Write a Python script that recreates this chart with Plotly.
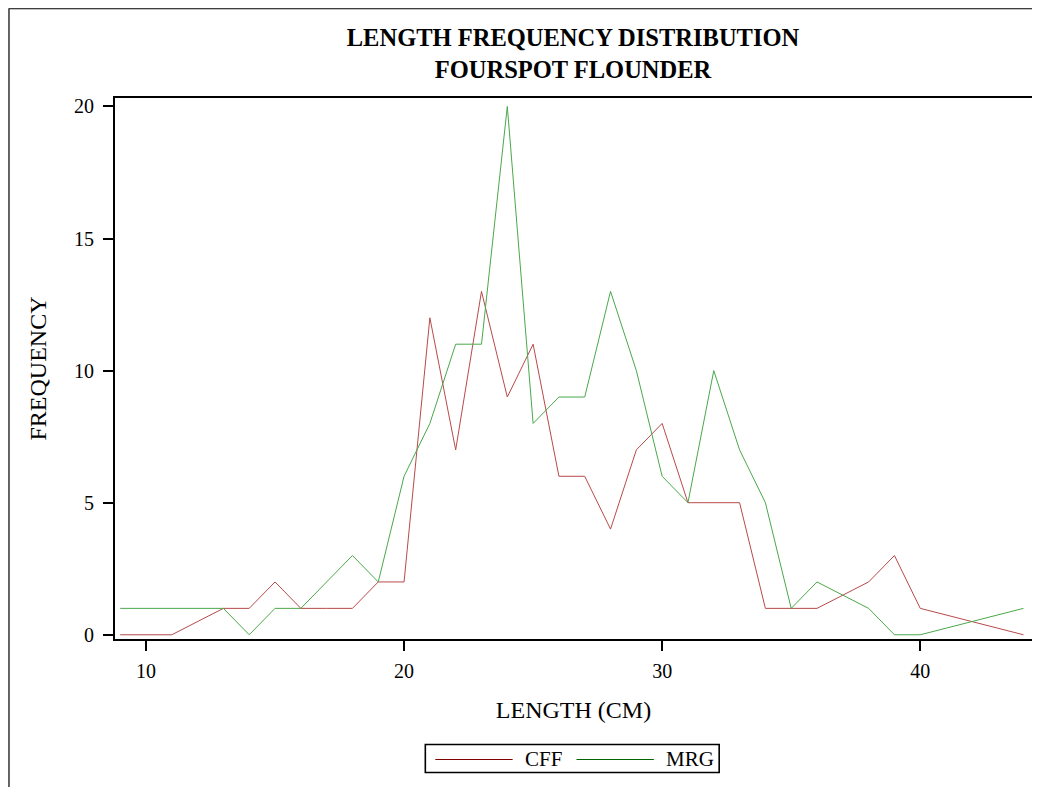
import plotly.graph_objects as go

# CFF series (length in cm, frequency)
cff_len = [9, 10, 11, 13, 14, 15, 16, 17, 18, 19, 20, 21, 22, 23, 24, 25, 26, 27, 28,
           29, 30, 31, 32, 33, 34, 35, 36, 38, 39, 40, 44]
cff_freq = [0, 0, 0, 1, 1, 2, 1, 1, 1, 2, 2, 12, 7, 13, 9, 11, 6, 6, 4,
            7, 8, 5, 5, 5, 1, 1, 1, 2, 3, 1, 0]

# MRG series
mrg_len = [9, 10, 11, 12, 13, 14, 15, 16, 18, 19, 20, 21, 22, 23, 24, 25, 26, 27, 28,
           29, 30, 31, 32, 33, 34, 35, 36, 38, 39, 40, 44]
mrg_freq = [1, 1, 1, 1, 1, 0, 1, 1, 3, 2, 6, 8, 11, 11, 20, 8, 9, 9, 13,
            10, 6, 5, 10, 7, 5, 1, 2, 1, 0, 0, 1]

series_names = ["CFF", "MRG"]
line_colors = ["#b84a4a", "#4aa84a"]     # thin plotted lines
legend_colors = ["#800000", "#006400"]   # legend swatches

x_ticks = [10, 20, 30, 40]
y_ticks = [0, 5, 10, 15, 20]

FONT = "Liberation Serif, Times New Roman, serif"

W, H = 1032, 779
L, R, T, B = 107, 6, 90, 148
pw, ph = W - L - R, H - T - B


def px_x(p):
    return (p - L) / pw


def px_y(p):
    return (H - B - p) / ph


fig = go.Figure()
for xs, ys, name, col in zip([cff_len, mrg_len], [cff_freq, mrg_freq],
                             series_names, line_colors):
    fig.add_trace(go.Scatter(x=xs, y=ys, mode="lines", name=name,
                             line=dict(color=col, width=1), showlegend=False))

# manual legend (box, swatch lines, labels) in figure pixel positions
shapes = [
    dict(type="rect", xref="paper", yref="paper",
         x0=px_x(0.75), x1=px_x(W + 20), y0=px_y(H + 20), y1=px_y(0.75),
         line=dict(color="black", width=1.2), layer="below"),
    dict(type="rect", xref="paper", yref="paper",
         x0=px_x(418), x1=px_x(712.5), y0=px_y(764.5), y1=px_y(736.5),
         line=dict(color="black", width=1.6), fillcolor="white"),
]
annotations = []
swatch_x = [(428, 505.5), (569.5, 647)]
text_x = [516, 657]
for (sx0, sx1), tx, name, col in zip(swatch_x, text_x, series_names, legend_colors):
    shapes.append(dict(type="line", xref="paper", yref="paper",
                       x0=px_x(sx0), x1=px_x(sx1), y0=px_y(751.5), y1=px_y(751.5),
                       line=dict(color=col, width=1)))
    annotations.append(dict(text=name, xref="paper", yref="paper",
                            x=px_x(tx), y=px_y(750.5), xanchor="left", yanchor="middle",
                            showarrow=False, font=dict(family=FONT, size=21, color="black")))

fig.update_layout(
    width=W, height=H,
    margin=dict(l=L, r=R, t=T, b=B, pad=0),
    paper_bgcolor="white", plot_bgcolor="white",
    font=dict(family=FONT, color="black", size=20),
    title=dict(
        text="<b>LENGTH FREQUENCY DISTRIBUTION</b><br><b>FOURSPOT FLOUNDER</b>",
        x=px_x(566), xanchor="center", xref="paper",
        y=1 - 38 / H, yanchor="top", yref="container",
        font=dict(family=FONT, size=24.5, color="black"),
    ),
    showlegend=False,
    shapes=shapes,
    annotations=annotations,
)

fig.update_xaxes(
    range=[8.8, 44.33], tickvals=x_ticks, ticks="outside", ticklen=10, tickwidth=2,
    tickcolor="black", showline=True, linewidth=2, linecolor="black", mirror=True,
    showgrid=False, zeroline=False, tickfont=dict(size=20), ticklabelstandoff=3,
    title=dict(text="LENGTH (CM)", font=dict(size=24), standoff=20),
)
fig.update_yaxes(
    range=[-0.16, 20.32], tickvals=y_ticks, ticks="outside", ticklen=10, tickwidth=2,
    tickcolor="black", showline=True, linewidth=2, linecolor="black", mirror=True,
    showgrid=False, zeroline=False, tickfont=dict(size=20), ticklabelstandoff=5,
    title=dict(text="FREQUENCY", font=dict(size=24), standoff=21),
)

fig.write_html("out.html")
